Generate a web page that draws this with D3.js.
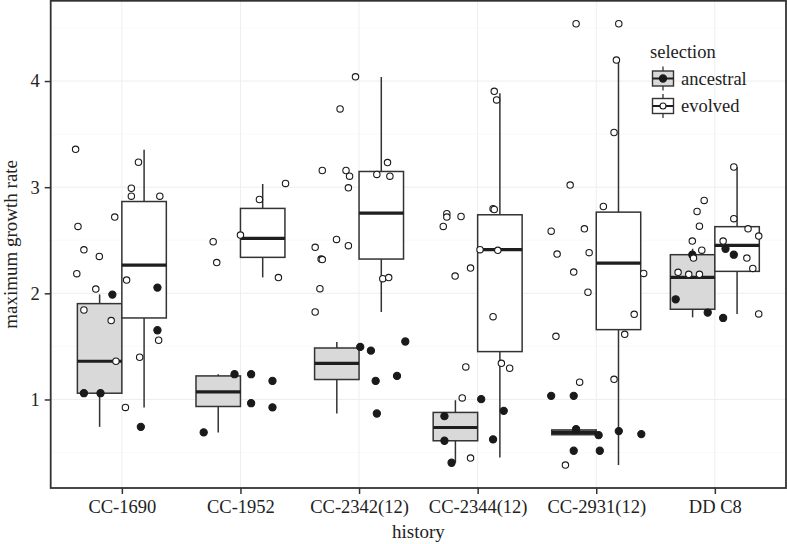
<!DOCTYPE html>
<html>
<head>
<meta charset="utf-8">
<script src="https://cdn.jsdelivr.net/npm/d3@7"></script>
<style>
  html, body { margin: 0; padding: 0; background: #fff; }
  svg { display: block; }
  text { font-family: "Liberation Serif", "Times New Roman", serif; fill: #222; }
</style>
</head>
<body>
<svg id="chart" width="787" height="544"></svg>
<script>
// ---------------- data ----------------
const categories = ["CC-1690", "CC-1952", "CC-2342(12)", "CC-2344(12)", "CC-2931(12)", "DD C8"];
const selections = ["ancestral", "evolved"];
const yTicks = [1, 2, 3, 4];

// box statistics per category: [lower whisker, Q1, median, Q3, upper whisker]
const ancestralBoxes = [
  [0.742, 1.059, 1.36, 1.903, 1.99],
  [0.69, 0.934, 1.072, 1.222, 1.238],
  [0.868, 1.188, 1.341, 1.485, 1.542],
  [0.404, 0.611, 0.736, 0.878, 0.993],
  [0.668, 0.668, 0.69, 0.713, 0.713],
  [1.774, 1.85, 2.15, 2.364, 2.42]
];
const evolvedBoxes = [
  [0.925, 1.768, 2.266, 2.865, 3.352],
  [2.15, 2.339, 2.517, 2.80, 3.03],
  [1.824, 2.323, 2.755, 3.148, 4.038],
  [0.454, 1.451, 2.411, 2.74, 3.884],
  [0.382, 1.658, 2.285, 2.765, 4.192],
  [1.806, 2.207, 2.452, 2.628, 3.19]
];

// jittered observations: [horizontal jitter (in category units), growth rate]
const ancestralPoints = [
  [[-0.08, 1.988], [0.30, 2.054], [0.30, 1.652], [-0.32, 1.059], [-0.18, 1.059], [0.16, 0.742]],
  [[-0.05, 1.238], [0.09, 1.238], [0.27, 1.175], [0.09, 0.965], [0.27, 0.925], [-0.31, 0.69]],
  [[0.01, 1.495], [0.10, 1.46], [0.14, 1.175], [0.15, 0.868], [0.39, 1.546], [0.32, 1.222]],
  [[0.03, 1.003], [0.22, 0.893], [-0.28, 0.843], [-0.28, 0.611], [0.13, 0.624], [-0.22, 0.404]],
  [[-0.38, 1.034], [-0.19, 1.034], [-0.17, 0.72], [0.02, 0.664], [0.19, 0.702], [0.38, 0.674], [-0.19, 0.517], [0.03, 0.517]],
  [[-0.19, 2.364], [0.09, 2.42], [0.16, 2.364], [-0.33, 1.944], [-0.06, 1.819], [0.07, 1.768]]
];
const evolvedPoints = [
  [[-0.39, 3.357], [0.14, 3.235], [0.08, 2.99], [0.08, 2.915], [0.32, 2.915], [-0.06, 2.718], [-0.37, 2.63],
   [-0.32, 2.41], [-0.19, 2.348], [-0.38, 2.185], [-0.22, 2.04], [0.04, 2.125], [-0.32, 1.843], [-0.09, 1.743],
   [0.31, 1.558], [-0.05, 1.36], [0.15, 1.398], [0.03, 0.925]],
  [[-0.23, 2.486], [-0.20, 2.29], [0.16, 2.884], [0.38, 3.035], [0.00, 2.549], [0.32, 2.148]],
  [[-0.03, 4.04], [-0.16, 3.737], [-0.31, 3.157], [-0.11, 3.157], [-0.08, 3.104], [-0.09, 2.994], [0.15, 3.12],
   [0.24, 3.232], [0.26, 3.104], [-0.19, 2.508], [-0.09, 2.449], [-0.37, 2.433], [-0.32, 2.323], [-0.31, 2.318],
   [-0.33, 2.044], [-0.37, 1.824], [0.20, 2.138], [0.25, 2.148]],
  [[0.14, 3.903], [0.16, 3.822], [-0.26, 2.75], [-0.26, 2.718], [-0.14, 2.724], [-0.29, 2.63], [0.13, 2.797],
   [0.14, 2.79], [0.02, 2.411], [0.17, 2.405], [-0.06, 2.238], [-0.19, 2.163], [0.13, 1.78], [0.20, 1.341],
   [0.27, 1.294], [-0.10, 1.307], [-0.13, 1.015], [-0.06, 0.448]],
  [[-0.17, 4.54], [0.19, 4.54], [0.17, 4.198], [0.15, 3.515], [-0.22, 3.02], [0.06, 2.818], [-0.38, 2.586],
   [-0.10, 2.608], [-0.33, 2.37], [-0.06, 2.383], [-0.19, 2.2], [-0.07, 2.01], [0.40, 2.188], [0.32, 1.802],
   [0.24, 1.614], [-0.34, 1.595], [0.15, 1.19], [-0.14, 1.163], [-0.26, 0.382]],
  [[0.16, 3.19], [-0.09, 2.875], [-0.15, 2.771], [-0.13, 2.633], [0.16, 2.703], [0.28, 2.608], [0.37, 2.539],
   [-0.19, 2.492], [0.07, 2.492], [-0.11, 2.407], [-0.18, 2.332], [0.27, 2.332], [0.32, 2.235], [-0.31, 2.198],
   [-0.22, 2.179], [-0.13, 2.179], [0.37, 1.806]]
];

// ---------------- layout ----------------
const W = 787, H = 544;
const panel = { left: 50.7, right: 786, top: 0.8, bottom: 488 };
const ink = "#222";
const boxStroke = "#333";
const ancFill = "#d9d9d9";

const svg = d3.select("#chart");

const x = d3.scalePoint().domain(categories).range([panel.left, panel.right]).padding(0.6);
const step = x.step();
const dodge = d3.scaleBand().domain(selections).range([-0.375 * step, 0.375 * step]);
const y = d3.scaleLinear().domain([0.166, 4.756]).range([panel.bottom, panel.top]);

// gridlines
const g = svg.append("g");
const minor = d3.range(0.5, 4.75, 1);
g.selectAll("line.minor").data(minor).join("line")
  .attr("x1", panel.left).attr("x2", panel.right)
  .attr("y1", d => y(d)).attr("y2", d => y(d))
  .attr("stroke", "#f5f5f5").attr("stroke-width", 0.6);
g.selectAll("line.major").data(yTicks).join("line")
  .attr("x1", panel.left).attr("x2", panel.right)
  .attr("y1", d => y(d)).attr("y2", d => y(d))
  .attr("stroke", "#eeeeee").attr("stroke-width", 1);
g.selectAll("line.vmajor").data(categories).join("line")
  .attr("x1", d => x(d)).attr("x2", d => x(d))
  .attr("y1", panel.top).attr("y2", panel.bottom)
  .attr("stroke", "#eeeeee").attr("stroke-width", 1);

// boxes
const boxSets = [
  { sel: "ancestral", boxes: ancestralBoxes, fill: ancFill },
  { sel: "evolved", boxes: evolvedBoxes, fill: "#ffffff" }
];
const bw = dodge.bandwidth();
boxSets.forEach(set => {
  set.boxes.forEach((b, i) => {
    const cx = x(categories[i]) + dodge(set.sel) + bw / 2;
    const [lo, q1, med, q3, hi] = b;
    const bg = svg.append("g");
    bg.append("line").attr("x1", cx).attr("x2", cx).attr("y1", y(hi)).attr("y2", y(q3))
      .attr("stroke", boxStroke).attr("stroke-width", 1.5);
    bg.append("line").attr("x1", cx).attr("x2", cx).attr("y1", y(q1)).attr("y2", y(lo))
      .attr("stroke", boxStroke).attr("stroke-width", 1.5);
    bg.append("rect").attr("x", cx - bw / 2).attr("width", bw)
      .attr("y", y(q3)).attr("height", y(q1) - y(q3))
      .attr("fill", set.fill).attr("stroke", boxStroke).attr("stroke-width", 1.5);
    bg.append("line").attr("x1", cx - bw / 2).attr("x2", cx + bw / 2).attr("y1", y(med)).attr("y2", y(med))
      .attr("stroke", "#1e1e1e").attr("stroke-width", 3.2);
  });
});

// points
const pointSets = [
  { pts: ancestralPoints, fill: "#1a1a1a", r: 3.6 },
  { pts: evolvedPoints, fill: "#ffffff", r: 3.2 }
];
pointSets.forEach(set => {
  set.pts.forEach((arr, i) => {
    svg.append("g").selectAll("circle").data(arr).join("circle")
      .attr("cx", d => x(categories[i]) + d[0] * step)
      .attr("cy", d => y(d[1]))
      .attr("r", set.r)
      .attr("fill", set.fill)
      .attr("stroke", "#1a1a1a").attr("stroke-width", 1.1);
  });
});

// panel border
svg.append("rect").attr("x", panel.left).attr("y", panel.top)
  .attr("width", panel.right - panel.left).attr("height", panel.bottom - panel.top)
  .attr("fill", "none").attr("stroke", "#333").attr("stroke-width", 1.8);

// axes
const yAxis = d3.axisLeft(y).tickValues(yTicks).tickSize(6).tickPadding(5).tickFormat(d3.format("d"));
const ya = svg.append("g").attr("transform", `translate(${panel.left},0)`).call(yAxis);
ya.select(".domain").remove();
ya.selectAll(".tick line").attr("stroke", "#333").attr("stroke-width", 1.5);
ya.selectAll(".tick text").attr("font-size", 18.5).attr("fill", ink)
  .style("font-family", '"Liberation Serif", serif');

const xAxis = d3.axisBottom(x).tickSize(6).tickPadding(6);
const xa = svg.append("g").attr("transform", `translate(0,${panel.bottom})`).call(xAxis);
xa.select(".domain").remove();
xa.selectAll(".tick line").attr("stroke", "#333").attr("stroke-width", 1.5);
xa.selectAll(".tick text").attr("font-size", 18.5).attr("fill", ink)
  .style("font-family", '"Liberation Serif", serif');

// axis titles
svg.append("text").attr("x", (panel.left + panel.right) / 2).attr("y", 538)
  .attr("text-anchor", "middle").attr("font-size", 19).text("history");
svg.append("text").attr("transform", `translate(17,${(panel.top + panel.bottom) / 2}) rotate(-90)`)
  .attr("text-anchor", "middle").attr("font-size", 19).text("maximum growth rate");

// legend
const lg = svg.append("g").attr("transform", "translate(650,0)");
lg.append("text").attr("x", 0).attr("y", 57.5).attr("font-size", 18.5).text("selection");
const legendKeys = [
  { sel: "ancestral", fill: ancFill, pfill: "#1a1a1a", r: 3.6, cy: 78.5 },
  { sel: "evolved", fill: "#ffffff", pfill: "#ffffff", r: 3, cy: 106 }
];
legendKeys.forEach(k => {
  const kx = 13;
  lg.append("line").attr("x1", kx).attr("x2", kx).attr("y1", k.cy - 12).attr("y2", k.cy + 12)
    .attr("stroke", boxStroke).attr("stroke-width", 1.3);
  lg.append("rect").attr("x", kx - 10.5).attr("y", k.cy - 7.5).attr("width", 21).attr("height", 15)
    .attr("fill", k.fill).attr("stroke", boxStroke).attr("stroke-width", 1.4);
  lg.append("line").attr("x1", kx - 10.5).attr("x2", kx + 10.5).attr("y1", k.cy).attr("y2", k.cy)
    .attr("stroke", "#1e1e1e").attr("stroke-width", 2);
  lg.append("circle").attr("cx", kx).attr("cy", k.cy).attr("r", k.r)
    .attr("fill", k.pfill).attr("stroke", "#1a1a1a").attr("stroke-width", 1.1);
  lg.append("text").attr("x", 31).attr("y", k.cy + 6).attr("font-size", 18.5).text(k.sel);
});
</script>
</body>
</html>
